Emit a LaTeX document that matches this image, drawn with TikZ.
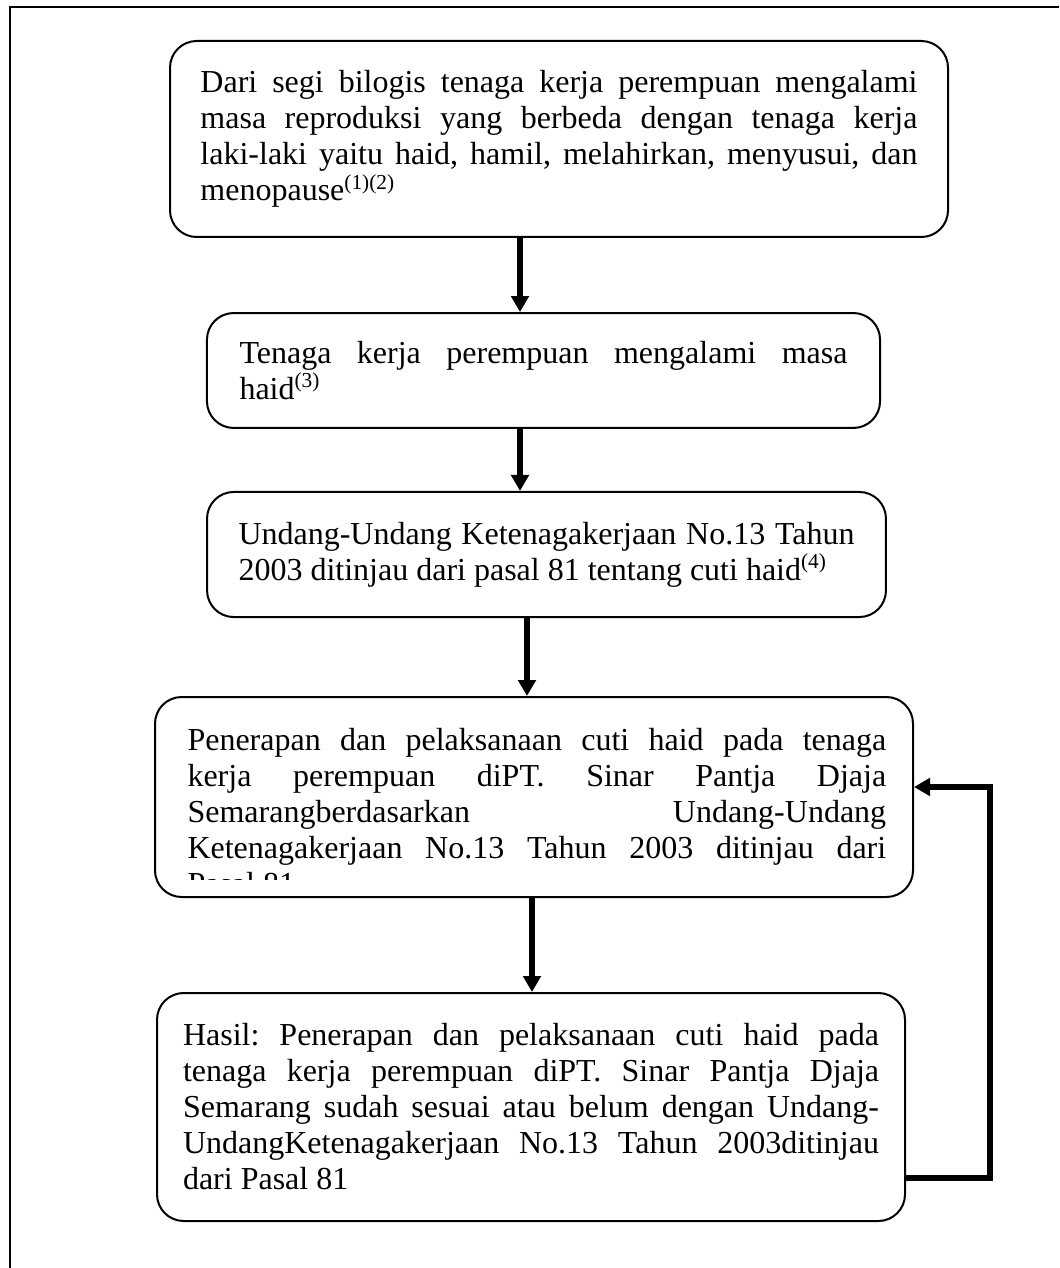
\documentclass[tikz,border=0pt]{standalone}
\usepackage{fontspec}
\setmainfont{Liberation Serif}
\usetikzlibrary{arrows.meta}
\tolerance=9999
\hyphenpenalty=10000
\frenchspacing

\begin{document}
\begin{tikzpicture}[
  x=0.375pt, y=-0.375pt,
  flowbox/.style  = {draw, line width=0.75pt, rounded corners=10pt,
                     align=justify, inner sep=0pt,
                     font=\fontsize{12}{13.5}\selectfont},
  boxtext/.style  = {align=justify, inner sep=0pt,
                     font=\fontsize{12}{13.5}\selectfont},
  arrow/.style    = {-{Triangle[length=6pt,width=6.5pt]}, line width=1.9pt},
  frame/.style    = {line width=0.8pt}
]
  \useasboundingbox (0,0) rectangle (1059,1268);

  % Page frame (top and left only)
  \draw[frame] (1059,7) -| (10,1268);

  % Flow boxes
  \node[flowbox, minimum width=291.75pt, minimum height=73.5pt, text width=268.9pt] (b1) at (559,139) {
    Dari segi bilogis tenaga kerja perempuan mengalami\linebreak
    masa reproduksi yang berbeda dengan tenaga kerja\linebreak
    laki-laki yaitu haid, hamil, melahirkan, menyusui, dan\linebreak
    menopause\textsuperscript{(1)(2)}
  };

  \node[flowbox, minimum width=252.4pt, minimum height=43.1pt, text width=228pt] (b2) at (543.5,370.5) {
    Tenaga kerja perempuan mengalami masa\linebreak
    haid\textsuperscript{(3)}
  };

  \node[flowbox, minimum width=254.6pt, minimum height=46.9pt, text width=231pt] (b3) at (546.5,554.5) {
    Undang-Undang Ketenagakerjaan No.13 Tahun\linebreak
    2003 ditinjau dari pasal 81 tentang cuti haid\textsuperscript{(4)}
  };

  % Box with overflowing (clipped) text
  \node[flowbox, minimum width=284.25pt, minimum height=75pt] (b4) at (534,797) {};
  \begin{scope}
    \clip (155,697) rectangle (913,879);
    \node[boxtext, text width=262pt, anchor=north west] (t4) at (187,728) {
      Penerapan dan pelaksanaan cuti haid pada tenaga\linebreak
      kerja perempuan diPT. Sinar Pantja Djaja\linebreak
      Semarangberdasarkan Undang-Undang\linebreak
      Ketenagakerjaan No.13 Tahun 2003 ditinjau dari\linebreak
      Pasal 81
    };
  \end{scope}

  \node[flowbox, minimum width=280.5pt, minimum height=85.5pt, text width=261pt] (b5) at (531,1107) {
    Hasil: Penerapan dan pelaksanaan cuti haid pada\linebreak
    tenaga kerja perempuan diPT. Sinar Pantja Djaja\linebreak
    Semarang sudah sesuai atau belum dengan Undang-\linebreak
    UndangKetenagakerjaan No.13 Tahun 2003ditinjau\linebreak
    dari Pasal 81
  };

  % Arrow positions
  \coordinate (a1) at (520,0);
  \coordinate (a3) at (527,0);
  \coordinate (a4) at (532,0);
  \coordinate (fbbot) at (990,1178);
  \coordinate (fbtop) at (990,787);

  % Arrows
  \draw[arrow] (b1.south -| a1) -- (b2.north -| a1);
  \draw[arrow] (b2.south -| a1) -- (b3.north -| a1);
  \draw[arrow] (b3.south -| a3) -- (b4.north -| a3);
  \draw[arrow] (b4.south -| a4) -- (b5.north -| a4);

  % Feedback loop
  \draw[arrow] (b5.east |- fbbot) -- (fbbot) -- (fbtop) -- (b4.east |- fbtop);

\end{tikzpicture}
\end{document}
